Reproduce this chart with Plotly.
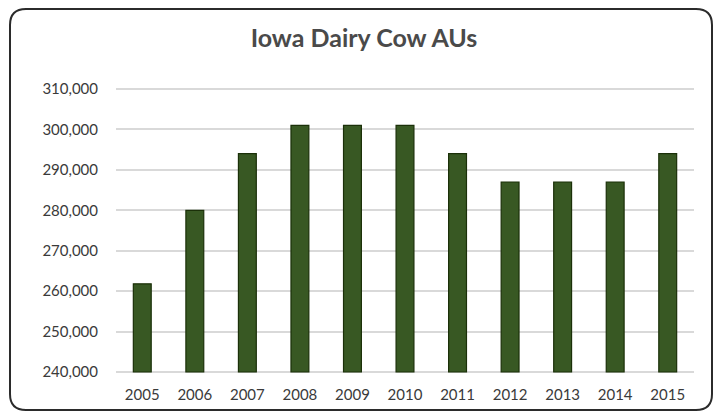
import plotly.graph_objects as go

# Iowa dairy cow animal units by year
years = ["2005", "2006", "2007", "2008", "2009", "2010",
         "2011", "2012", "2013", "2014", "2015"]
animal_units = [261800, 280000, 294000, 301000, 301000, 301000,
                294000, 287000, 287000, 287000, 294000]
y_ticks = [240000, 250000, 260000, 270000, 280000, 290000, 300000, 310000]
y_tick_text = [f"{v:,}" for v in y_ticks]
AXIS_FLOOR = 240000

W, H = 717, 412
M_L, M_R, M_T, M_B = 116, 23, 87, 38
PW, PH = W - M_L - M_R, H - M_T - M_B


def px(x):
    return (x - M_L) / PW


def py(y):
    return (H - M_B - y) / PH


def rounded_rect(x0, y0, x1, y1, r):
    # outline path in paper units built from pixel corners
    pts = [
        f"M {px(x0 + r)},{py(y0)}",
        f"L {px(x1 - r)},{py(y0)}",
        f"Q {px(x1)},{py(y0)} {px(x1)},{py(y0 + r)}",
        f"L {px(x1)},{py(y1 - r)}",
        f"Q {px(x1)},{py(y1)} {px(x1 - r)},{py(y1)}",
        f"L {px(x0 + r)},{py(y1)}",
        f"Q {px(x0)},{py(y1)} {px(x0)},{py(y1 - r)}",
        f"L {px(x0)},{py(y0 + r)}",
        f"Q {px(x0)},{py(y0)} {px(x0 + r)},{py(y0)}",
        "Z",
    ]
    return " ".join(pts)


# bars rise from the axis floor up to each year's value
fig = go.Figure(
    go.Bar(
        x=years,
        y=[v - AXIS_FLOOR for v in animal_units],
        base=AXIS_FLOOR,
        customdata=animal_units,
        hovertemplate="%{x}: %{customdata:,}<extra></extra>",
        marker=dict(color="#385823", line=dict(color="#1b3009", width=1.2)),
        width=0.34,
    )
)

fig.update_layout(
    width=W,
    height=H,
    margin=dict(l=M_L, r=M_R, t=M_T, b=M_B, autoexpand=False),
    paper_bgcolor="white",
    plot_bgcolor="white",
    showlegend=False,
    font=dict(family="Lato, Carlito, sans-serif", color="#595959"),
    title=dict(
        text="<b>Iowa Dairy Cow AUs</b>",
        x=364 / W,
        xref="container",
        xanchor="center",
        y=1 - 38 / H,
        yref="container",
        yanchor="middle",
        font=dict(size=25, color="#4a4a4a"),
    ),
    xaxis=dict(
        type="category",
        range=[-0.5, 10.5],
        automargin=False,
        showgrid=False,
        showline=False,
        ticks="",
        tickfont=dict(size=15, color="#3a3a3a"),
        ticklabelstandoff=10,
    ),
    yaxis=dict(
        range=[239500, 310500],
        automargin=False,
        tickvals=y_ticks,
        ticktext=y_tick_text,
        showgrid=True,
        gridcolor="#d9d9d9",
        gridwidth=1.5,
        zeroline=False,
        showline=False,
        ticks="",
        tickfont=dict(size=15, color="#3a3a3a"),
        ticklabelstandoff=17,
    ),
    shapes=[
        dict(
            type="path",
            xref="paper",
            yref="paper",
            path=rounded_rect(10, 9, 712, 410, 16),
            line=dict(color="#2b2b2b", width=2),
            layer="above",
        )
    ],
)

fig.write_html("out.html")
